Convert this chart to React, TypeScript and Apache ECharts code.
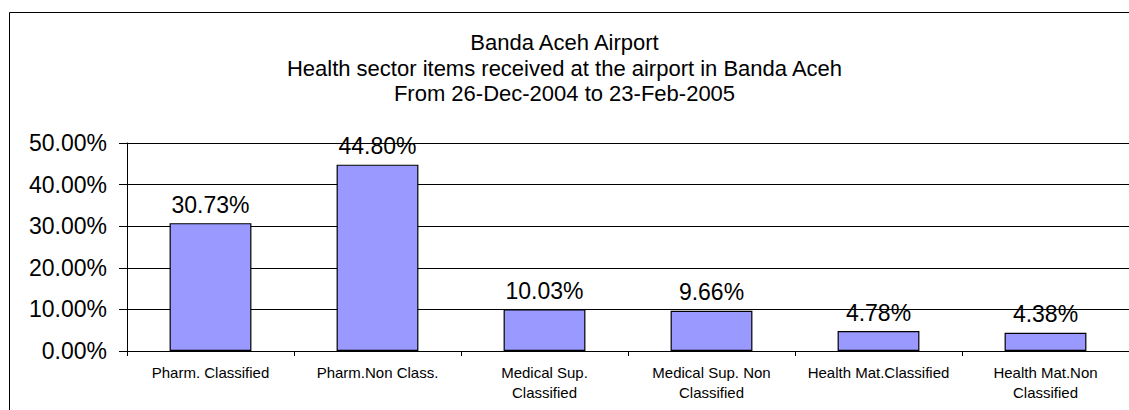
import React, { useEffect, useRef } from "react";
import * as echarts from "echarts";

const titleLines = [
  "Banda Aceh Airport",
  "Health sector items received at the airport in Banda Aceh",
  "From 26-Dec-2004 to 23-Feb-2005",
];
const categories = [
  "Pharm. Classified",
  "Pharm.Non Class.",
  "Medical Sup.\nClassified",
  "Medical Sup. Non\nClassified",
  "Health Mat.Classified",
  "Health Mat.Non\nClassified",
];
const shares = [30.73, 44.8, 10.03, 9.66, 4.78, 4.38];
const yMin = 0;
const yMax = 50;
const yStep = 10;

const FONT = '"Liberation Sans", Arial, sans-serif';

export default function App() {
  const ref = useRef<HTMLDivElement>(null);
  useEffect(() => {
    if (!ref.current) return;
    const chart = echarts.init(ref.current, null, { renderer: "svg" });
    chart.setOption({
      animation: false,
      backgroundColor: "#fff",
      title: {
        text: titleLines.join("\n"),
        left: "center",
        top: 25,
        textStyle: {
          fontFamily: FONT,
          fontSize: 22,
          fontWeight: "normal",
          color: "#000",
          lineHeight: 25.5,
        },
      },
      graphic: [
        {
          type: "rect",
          shape: { x: 9.5, y: 12.5, width: 1300, height: 600 },
          style: { fill: "none", stroke: "#000", lineWidth: 1 },
          silent: true,
        },
      ],
      grid: { left: 127, top: 143, width: 1003, height: 208 },
      xAxis: {
        type: "category",
        data: categories,
        axisLine: { show: true, lineStyle: { color: "#000", width: 1 } },
        axisTick: { show: true, length: 5, lineStyle: { color: "#000" } },
        axisLabel: {
          interval: 0,
          margin: 11,
          fontFamily: FONT,
          fontSize: 15,
          lineHeight: 20,
          color: "#000",
        },
        splitLine: { show: false },
      },
      yAxis: {
        type: "value",
        min: yMin,
        max: yMax,
        interval: yStep,
        axisLine: { show: true, lineStyle: { color: "#000", width: 1 } },
        axisTick: { show: true, length: 8, lineStyle: { color: "#000" } },
        axisLabel: {
          margin: 20,
          fontFamily: FONT,
          fontSize: 23,
          color: "#000",
          formatter: (v: number) => v.toFixed(2) + "%",
        },
        splitLine: { show: true, lineStyle: { color: "#000", width: 1 } },
      },
      series: [
        {
          type: "bar",
          data: shares,
          barWidth: "49%",
          itemStyle: { color: "#9999FF", borderColor: "#000", borderWidth: 1.2 },
          label: {
            show: true,
            position: "top",
            distance: 7,
            fontFamily: FONT,
            fontSize: 23,
            color: "#000",
            formatter: (p: any) => Number(p.value).toFixed(2) + "%",
          },
        },
      ],
    });
    return () => chart.dispose();
  }, []);
  return (
    <div
      ref={ref}
      style={{ position: "absolute", left: 0, top: 0, width: 1129, height: 410 }}
    />
  );
}
